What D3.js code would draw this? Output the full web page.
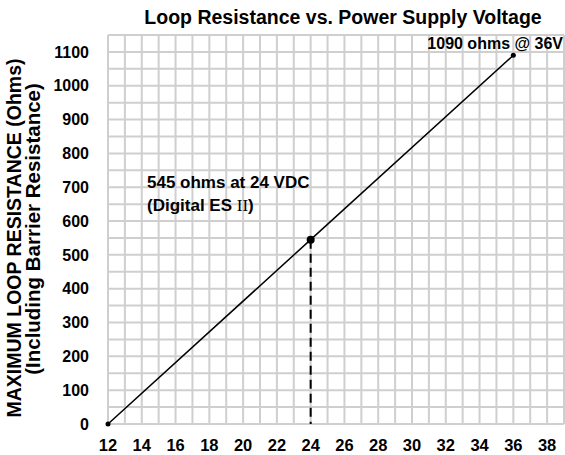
<!DOCTYPE html>
<html>
<head>
<meta charset="utf-8">
<script src="https://cdn.jsdelivr.net/npm/d3@7"></script>
<style>
  body { margin: 0; background: #fff; }
  text { font-family: "Liberation Sans", Arial, Helvetica, sans-serif; font-weight: bold; fill: #000; }
</style>
</head>
<body>
<svg id="chart" width="565" height="455"></svg>
<script>
// chart values
var voltage = [12, 24, 36]
var resistance = [0, 545, 1090]
var xTicks = [12, 14, 16, 18, 20, 22, 24, 26, 28, 30, 32, 34, 36, 38]
var yTicks = [0, 100, 200, 300, 400, 500, 600, 700, 800, 900, 1000, 1100]
var title = "Loop Resistance vs. Power Supply Voltage"
var yTitle = ["MAXIMUM LOOP RESISTANCE (Ohms)", "(Including Barrier Resistance)"]
var noteLow = ["545 ohms at 24 VDC", "(Digital ES ", "II", ")"]
var noteHigh = "1090 ohms @ 36V"

var dimensions = {
    margin: { top: 35, left: 108 },
    width: 456,
    height: 389
}

var svg = d3.select("#chart")

var x = d3.scaleLinear()
    .domain([12, 39])
    .range([dimensions.margin.left, dimensions.margin.left + dimensions.width])

var y = d3.scaleLinear()
    .domain([0, 1150])
    .range([dimensions.margin.top + dimensions.height, dimensions.margin.top])

// grid
var grid = svg.append("g")
    .attr("stroke", "#cfcfcf")
    .attr("stroke-width", 2)

grid.selectAll("line.v")
    .data(d3.range(12, 40))
    .enter()
    .append("line")
        .attr("class", "v")
        .attr("x1", function(d){ return x(d) })
        .attr("x2", function(d){ return x(d) })
        .attr("y1", y(0))
        .attr("y2", y(1150))

grid.selectAll("line.h")
    .data(d3.range(0, 1151, 50))
    .enter()
    .append("line")
        .attr("class", "h")
        .attr("x1", x(12))
        .attr("x2", x(39))
        .attr("y1", function(d){ return y(d) })
        .attr("y2", function(d){ return y(d) })

// tick labels
svg.append("g")
    .selectAll("text")
    .data(xTicks)
    .enter()
    .append("text")
        .attr("x", function(d){ return x(d) })
        .attr("y", 451)
        .attr("text-anchor", "middle")
        .style("font-size", "16.5px")
        .text(function(d){ return d })

svg.append("g")
    .selectAll("text")
    .data(yTicks)
    .enter()
    .append("text")
        .attr("x", 89)
        .attr("y", function(d){ return y(d) })
        .attr("dy", "0.36em")
        .attr("text-anchor", "end")
        .style("font-size", "16px")
        .text(function(d){ return d })

// titles
svg.append("text")
    .attr("x", 343)
    .attr("y", 24)
    .attr("text-anchor", "middle")
    .style("font-size", "19.5px")
    .text(title)

svg.append("text")
    .attr("transform", "translate(21,238) rotate(-90)")
    .attr("text-anchor", "middle")
    .style("font-size", "19.5px")
    .text(yTitle[0])

svg.append("text")
    .attr("transform", "translate(39.5,229) rotate(-90)")
    .attr("text-anchor", "middle")
    .style("font-size", "20.5px")
    .text(yTitle[1])

// dashed drop line at 24 V
svg.append("line")
    .attr("x1", x(voltage[1]))
    .attr("x2", x(voltage[1]))
    .attr("y1", y(resistance[1]))
    .attr("y2", y(0))
    .attr("stroke", "#000")
    .attr("stroke-width", 2)
    .attr("stroke-dasharray", "9,5")

// the line
var line = d3.line()
    .x(function(d, i){ return x(voltage[i]) })
    .y(function(d, i){ return y(resistance[i]) })

svg.append("path")
    .datum(voltage)
    .attr("d", line)
    .attr("fill", "none")
    .attr("stroke", "#000")
    .attr("stroke-width", 1.5)

svg.append("g")
    .selectAll("circle")
    .data(voltage)
    .enter()
    .append("circle")
        .attr("cx", function(d){ return x(d) })
        .attr("cy", function(d, i){ return y(resistance[i]) })
        .attr("r", function(d, i){ return i == 1 ? 4 : 2.5 })
        .attr("fill", "#000")

// notes
var low = svg.append("text")
    .attr("x", 147)
    .attr("y", 188)
    .style("font-size", "17px")
low.append("tspan").text(noteLow[0])
var low2 = svg.append("text")
    .attr("x", 147)
    .attr("y", 211)
    .style("font-size", "17px")
low2.append("tspan").text(noteLow[1])
low2.append("tspan")
    .style("font-family", "'Liberation Serif', 'Times New Roman', serif")
    .style("font-weight", "normal")
    .text(noteLow[2])
low2.append("tspan").text(noteLow[3])

svg.append("text")
    .attr("x", 563)
    .attr("y", 49)
    .attr("text-anchor", "end")
    .style("font-size", "16px")
    .text(noteHigh)
</script>
</body>
</html>
